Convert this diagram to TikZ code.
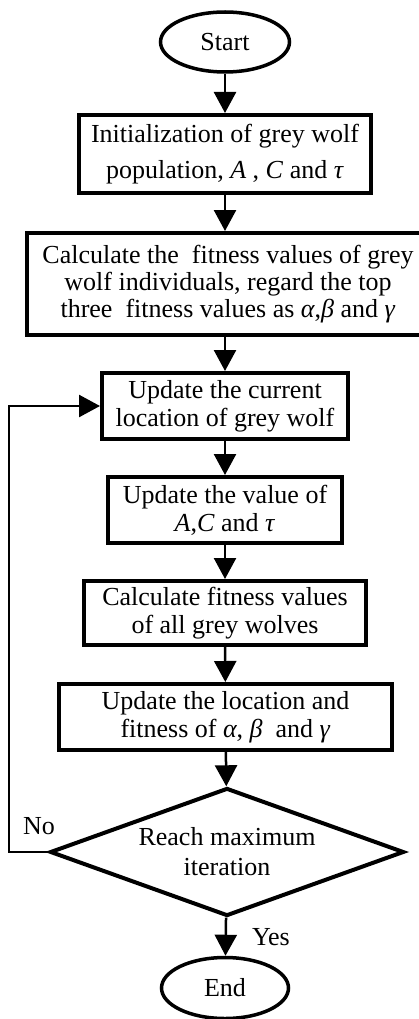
\documentclass[tikz,border=0pt]{standalone}
\usepackage{fontspec}
\setmainfont{Liberation Serif}
\usetikzlibrary{shapes,arrows.meta}

\begin{document}
\begin{tikzpicture}[x=1pt,y=-1pt,
  font=\fontsize{26}{28}\selectfont,
  box/.style={rectangle,draw=black,line width=4pt,align=center,inner sep=0pt},
  term/.style={ellipse,draw=black,line width=3.5pt,inner sep=0pt},
  flow/.style={-{Triangle[width=22pt,length=21pt]},line width=2.5pt,black}]

  \useasboundingbox (0,0) rectangle (419,1019);

  \node[term,
    minimum width=129pt,
    minimum height=60pt] at (225,42) (start) {Start};

  \node[box,
    minimum width=292pt,
    minimum height=78pt] at (225,154) (init)
    {Initialization of grey wolf\\[8pt]population, \textit{A} , \textit{C} and \textit{τ}};

  \node[box,
    minimum width=402pt,
    minimum height=102pt,
    font=\fontsize{26}{27}\selectfont] at (228,284) (calc)
    {Calculate the\ \ fitness values of grey\\wolf individuals, regard the top\\three\ \ fitness values as \textit{α},\textit{β} and \textit{γ}};

  \node[box,
    minimum width=246pt,
    minimum height=66pt] at (225,406) (upd)
    {Update the current\\location of grey wolf};

  \node[box,
    minimum width=234pt,
    minimum height=66pt] at (225,510) (val)
    {Update the value of\\\textit{A},\textit{C} and \textit{τ}};

  \node[box,
    minimum width=282pt,
    minimum height=64pt] at (225,613) (fit)
    {Calculate fitness values\\of all grey wolves};

  \node[box,
    minimum width=333pt,
    minimum height=66pt] at (225.5,717) (loc)
    {Update the location and\\fitness of \textit{α}, \textit{β}\ \ and \textit{γ}};

  \node[diamond,
    draw=black,
    line width=4pt,
    align=center,
    inner sep=0pt,
    aspect=2.77,
    minimum width=354pt,
    minimum height=128pt,
    font=\fontsize{26}{30}\selectfont] at (227,852) (check)
    {Reach maximum\\iteration};

  \node[term,
    minimum width=127pt,
    minimum height=61pt] at (225,988) (end) {End};

  \draw[flow] (start) -- (init);
  \draw[flow] (init) -- (init |- calc.north);
  \draw[flow] (upd |- calc.south) -- (upd);
  \draw[flow] (upd) -- (val);
  \draw[flow] (val) -- (fit);
  \draw[flow] (fit) -- (loc);
  \draw[flow] (loc) -- (check);
  \draw[flow] (check) -- node[anchor=west,inner sep=0pt,xshift=25pt] (yes) {Yes} (end);
  \draw[flow] (check.west) -- ++(-39,0) |- (upd.west);

  \node[inner sep=0pt] at (39,826) (no) {No};

\end{tikzpicture}
\end{document}
